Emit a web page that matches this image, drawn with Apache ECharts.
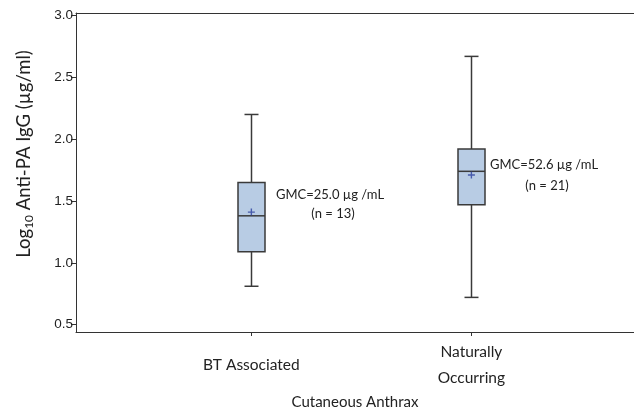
<!DOCTYPE html>
<html><head><meta charset="utf-8">
<script src="https://cdn.jsdelivr.net/npm/echarts@6/dist/echarts.min.js"></script>
<style>html,body{margin:0;padding:0;background:#fff}#c{width:634px;height:417px}</style>
</head><body><div id="c"></div>
<script>
const categories = ['BT Associated', 'Naturally Occurring'];
const categoryPos = [1, 2];
// [min, Q1, median, Q3, max] in log10 units
const boxValues = [
  [0.81, 1.09, 1.38, 1.65, 2.20],
  [0.72, 1.47, 1.74, 1.92, 2.67]
];
const meanValues = [1.41, 1.71];
const gmcLabels = ['GMC=25.0 µg /mL', 'GMC=52.6 µg /mL'];
const nLabels = ['(n = 13)', '(n = 21)'];
const yTicks = [0.5, 1.0, 1.5, 2.0, 2.5, 3.0];

const chart = echarts.init(document.getElementById('c'), null, {renderer: 'canvas'});
const boxData = boxValues.map((b, i) => [categoryPos[i], ...b]);
const meanData = meanValues.map((m, i) => [categoryPos[i], m]);
const plusPath = 'path://M4,0H6V4H10V6H6V10H4V6H0V4H4Z';
const catFont = 'Lato';
const BOX_W = 27, CAP_W = 14;
const lineCol = '#3a3a3a';

function renderBox(params, api) {
  const x = api.value(0);
  const pMin = api.coord([x, api.value(1)]);
  const pQ1 = api.coord([x, api.value(2)]);
  const pMed = api.coord([x, api.value(3)]);
  const pQ3 = api.coord([x, api.value(4)]);
  const pMax = api.coord([x, api.value(5)]);
  const cx = Math.round(pMin[0]) + 0.5;
  const ls = {stroke: lineCol, lineWidth: 1.5};
  return {
    type: 'group',
    children: [
      {type: 'line', shape: {x1: cx, y1: pMax[1], x2: cx, y2: pQ3[1]}, style: ls},
      {type: 'line', shape: {x1: cx, y1: pQ1[1], x2: cx, y2: pMin[1]}, style: ls},
      {type: 'line', shape: {x1: cx - CAP_W / 2, y1: pMax[1], x2: cx + CAP_W / 2, y2: pMax[1]}, style: ls},
      {type: 'line', shape: {x1: cx - CAP_W / 2, y1: pMin[1], x2: cx + CAP_W / 2, y2: pMin[1]}, style: ls},
      {type: 'rect', shape: {x: cx - BOX_W / 2, y: pQ3[1], width: BOX_W, height: pQ1[1] - pQ3[1]},
        style: {fill: '#b8cce4', stroke: lineCol, lineWidth: 1.5}},
      {type: 'line', shape: {x1: cx - BOX_W / 2, y1: pMed[1], x2: cx + BOX_W / 2, y2: pMed[1]}, style: ls}
    ]
  };
}

const axisCol = '#333';
chart.setOption({
  animation: false,
  grid: {left: 76, top: 13, right: 0, bottom: 85, show: false},
  xAxis: [{
    type: 'value', min: 0.203, max: 2.739,
    splitLine: {show: false},
    axisLine: {show: true, lineStyle: {color: axisCol}},
    axisTick: {show: true, customValues: categoryPos, length: 4, lineStyle: {color: axisCol}},
    axisLabel: {
      customValues: categoryPos, margin: 7,
      formatter: v => v === 1 ? '{big|' + categories[0] + '}' : '{n|Naturally}\n{n|Occurring}',
      rich: {
        big: {fontFamily: catFont, fontSize: 15.5, color: '#222', lineHeight: 52},
        n: {fontFamily: catFont, fontSize: 15.5, color: '#222', lineHeight: 26}
      }
    },
    name: 'Cutaneous Anthrax', nameLocation: 'middle', nameGap: 63,
    nameTextStyle: {fontFamily: catFont, fontSize: 15, color: '#222'}
  }, {
    type: 'value', position: 'top', min: 0.203, max: 2.739,
    splitLine: {show: false},
    axisLine: {show: true, lineStyle: {color: axisCol}},
    axisTick: {show: false}, axisLabel: {show: false}
  }],
  yAxis: {
    type: 'value', min: 0.44, max: 3.021,
    splitLine: {show: false},
    axisLine: {show: true, lineStyle: {color: axisCol}},
    axisTick: {show: true, customValues: yTicks, length: 5, lineStyle: {color: axisCol}},
    axisLabel: {customValues: yTicks, formatter: v => v.toFixed(1), fontFamily: 'Liberation Sans', fontSize: 13.5, color: '#222', margin: 3}
  },
  series: [
    {type: 'custom', data: boxData, renderItem: renderBox, encode: {x: 0, y: [1, 2, 3, 4, 5]}},
    {type: 'scatter', data: meanData, symbol: plusPath, symbolSize: 7,
      itemStyle: {color: '#2b3f9e'}, z: 5}
  ],
  graphic: [
    {type: 'text', x: 24, y: 154, rotation: Math.PI / 2,
      style: {text: '{a|Log}{s|10}{a| Anti-PA IgG (µg/ml)}', textAlign: 'center', textVerticalAlign: 'middle',
        rich: {
          a: {fontFamily: 'Lato', fontSize: 18.5, fill: '#222', lineHeight: 24},
          s: {fontFamily: 'Lato', fontSize: 12, fill: '#222', lineHeight: 24, padding: [10, 0, 0, 0]}
        }}},
    {type: 'text', left: 276, top: 188, style: {text: gmcLabels[0], font: '13px Lato', fill: '#222'}},
    {type: 'text', x: 333, y: 214, style: {text: nLabels[0], font: '13px Lato', fill: '#222', textAlign: 'center', textVerticalAlign: 'middle'}},
    {type: 'text', left: 490, top: 158, style: {text: gmcLabels[1], font: '13px Lato', fill: '#222'}},
    {type: 'text', x: 547, y: 186, style: {text: nLabels[1], font: '13px Lato', fill: '#222', textAlign: 'center', textVerticalAlign: 'middle'}}
  ]
});
</script></body></html>
